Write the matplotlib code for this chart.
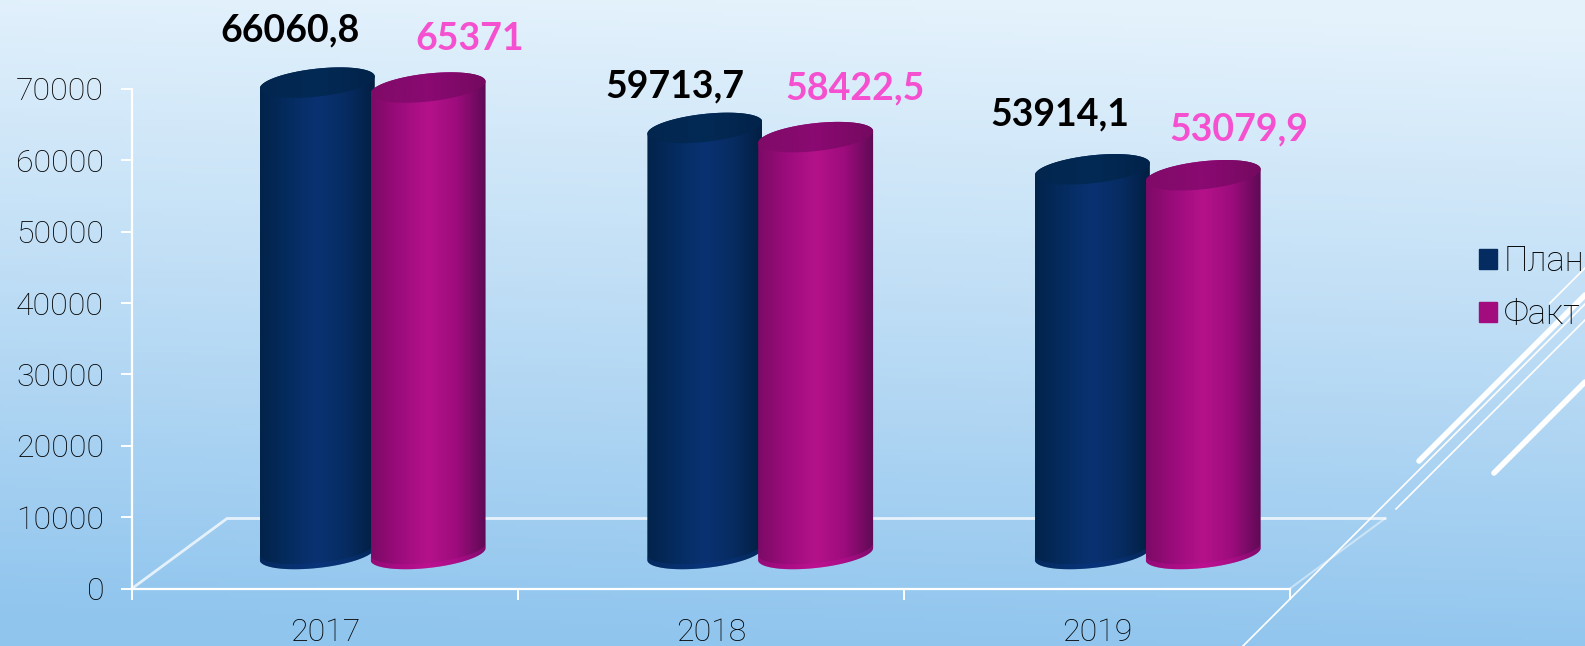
import numpy as np
import matplotlib
matplotlib.use('Agg')
import matplotlib.pyplot as plt
from matplotlib.colors import LinearSegmentedColormap
from matplotlib.patches import PathPatch, Patch
from matplotlib.path import Path

W, H = 1585, 646

years = ['2017', '2018', '2019']
plan = [66060.8, 59713.7, 53914.1]
fact = [65371, 58422.5, 53079.9]
plan_labels = ['66060,8', '59713,7', '53914,1']
fact_labels = ['65371', '58422,5', '53079,9']
yticks = [0, 10000, 20000, 30000, 40000, 50000, 60000, 70000]

# label offsets from the cylinder top, in pixels
plan_off = [(-27, 52), (-30, 41), (-32, 55)]
fact_off = [(42, 49), (39, 49), (36, 46)]

plan_body = ['#02234a', '#052c60', '#0a3272', '#072c62', '#021f42']
fact_body = ['#7c0a66', '#9c0c7c', '#b5128a', '#9c0c7c', '#5e0a55']
plan_cap = ['#02264e', '#032a55', '#02234a']
fact_cap = ['#800a68', '#8a0a72', '#74095f']

plt.rcParams['font.family'] = ['Lato', 'Roboto', 'DejaVu Sans']
thin_font = ['Roboto', 'DejaVu Sans']

fig = plt.figure(figsize=(W / 100, H / 100), dpi=100)

# slide background
bg = fig.add_axes([0, 0, 1, 1])
yy, xx = np.mgrid[0:1:200j, 0:1:400j]
grad = yy + 0.08 * (0.5 - xx) * 1.0
cm_bg = LinearSegmentedColormap.from_list('bg', ['#e4f2fc', '#bcdcf5', '#90c5ee'])
bg.imshow(grad, extent=[0, W, H, 0], aspect='auto', cmap=cm_bg, vmin=0, vmax=1)
bg.set_xlim(0, W)
bg.set_ylim(H, 0)
bg.axis('off')

# white slide decoration
bg.plot([1243, 1585], [646, 304], color='white', lw=1.2)
bg.plot([1396, 1585], [509, 320], color='white', lw=1.2)
bg.plot([1550, 1585], [303, 268], color='white', lw=1.2)
bg.plot([1419, 1585], [461, 295], color='white', lw=4, solid_capstyle='round')
bg.plot([1494, 1585], [473, 382], color='white', lw=4, solid_capstyle='round')

ax = fig.add_axes([132 / W, (H - 588.5) / H, (1290 - 132) / W, 499.5 / H])
ax.patch.set_alpha(0)
ax.set_xlim(0, 3)
ax.set_ylim(0, 70000)

px_x = 3 / (1290 - 132)
px_y = 70000 / 499.5

# floor
dx, dy = 95 * px_x, 70 * px_y
ax.plot([0, dx, 3 + dx], [0, dy, dy], color='white', alpha=0.75, lw=2, clip_on=False, zorder=1)
ax.plot([3, 3 + dx], [0, dy], color='white', alpha=0.45, lw=1.5, clip_on=False, zorder=1)

a = 57.5 * px_x
b = 14 * px_y
tilt = 6 * px_y
base = 34.5 * px_y


def ellipse_pts(xc, yc, t):
    return xc + a * np.cos(t), yc + b * np.sin(t) + tilt * np.cos(t)


def gradient(pts, colors, xc, top, zorder):
    patch = PathPatch(Path(pts, closed=True), fc='none', ec='none', transform=ax.transData)
    ax.add_patch(patch)
    cmap = LinearSegmentedColormap.from_list('c', colors)
    im = ax.imshow(np.linspace(0, 1, 256)[None, :], cmap=cmap, aspect='auto', zorder=zorder,
                   extent=[xc - a, xc + a, base - 2 * b, top + 2 * b])
    im.set_clip_path(patch)
    im.set_clip_box(fig.bbox)


def cylinder(xc, value, body, cap, rim, zorder):
    top = base + value
    t1 = np.linspace(np.pi, 2 * np.pi, 60)
    bx, by = ellipse_pts(xc, base, t1)
    t2 = np.linspace(0, np.pi, 60)
    tx, ty = ellipse_pts(xc, top, t2)
    gradient(np.column_stack([np.r_[bx, tx], np.r_[by, ty]]), body, xc, top, zorder)
    t3 = np.linspace(0, 2 * np.pi, 120)
    cx, cy = ellipse_pts(xc, top, t3)
    gradient(np.column_stack([cx, cy]), cap, xc, top, zorder + 0.1)
    # lighter strip along the lower edge
    ax.fill(np.r_[bx, bx[::-1]], np.r_[by, by[::-1] + 5 * px_y], color=rim, alpha=0.3, lw=0,
            zorder=zorder + 0.05, clip_on=False)


for i in range(len(years)):
    x_plan = i + 0.5 + 0.124 - 0.144 + i * 0.004
    x_fact = i + 0.5 + 0.124 + 0.143 + i * 0.004
    cylinder(x_plan, plan[i], plan_body, plan_cap, '#0a3a90', 3)
    cylinder(x_fact, fact[i], fact_body, fact_cap, '#cc10a0', 4)
    ax.annotate(plan_labels[i], (x_plan, base + plan[i]), xytext=plan_off[i], textcoords='offset pixels',
                ha='center', va='center', fontsize=27, fontweight='bold', color='black',
                annotation_clip=False, zorder=6)
    ax.annotate(fact_labels[i], (x_fact, base + fact[i]), xytext=fact_off[i], textcoords='offset pixels',
                ha='center', va='center', fontsize=27, fontweight='bold', color='#f450cf',
                annotation_clip=False, zorder=6)

ax.set_xlim(0, 3)
ax.set_ylim(0, 70000)

for s in ['top', 'right']:
    ax.spines[s].set_visible(False)
for s in ['left', 'bottom']:
    ax.spines[s].set_color('white')
    ax.spines[s].set_linewidth(1.6)

ax.set_yticks(yticks)
ax.set_yticklabels([str(v) for v in yticks])
ax.set_xticks([0, 1, 2, 3])
ax.set_xticklabels([])
ax.set_xticks(np.arange(len(years)) + 0.5, minor=True)
ax.set_xticklabels(years, minor=True)
ax.tick_params(axis='y', length=8, width=1.4, color='white', labelsize=23, pad=12, labelcolor='black')
ax.tick_params(axis='x', which='major', length=8, width=1.4, color='white')
ax.tick_params(axis='x', which='minor', length=0, labelsize=23, pad=21, labelcolor='black')
for lab in ax.get_yticklabels() + ax.get_xticklabels(minor=True):
    lab.set_family(thin_font)
    lab.set_fontweight('light')

handles = [Patch(color='#052c60', label='План'), Patch(color='#a30c7e', label='Факт')]
leg = ax.legend(handles=handles, loc='upper left', bbox_to_anchor=(1465 / W, (H - 231) / H),
                bbox_transform=fig.transFigure, frameon=False, fontsize=25, handlelength=0.52,
                handleheight=0.52, handletextpad=0.2, labelspacing=0.55, borderpad=0.4, borderaxespad=0)
for t in leg.get_texts():
    t.set_family(thin_font)
    t.set_fontweight('light')

fig.savefig('out.png', dpi=100)
